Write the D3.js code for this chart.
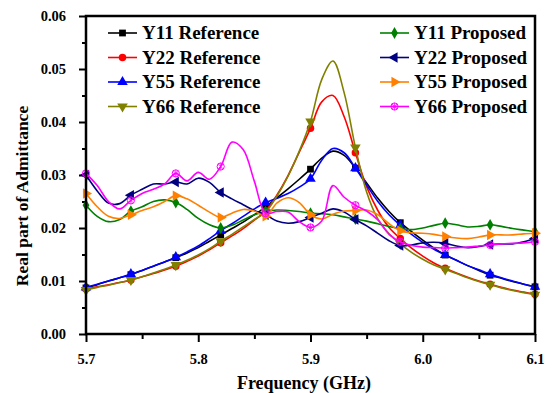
<!DOCTYPE html>
<html>
<head>
<meta charset="utf-8">
<script src="https://cdn.jsdelivr.net/npm/d3@7/dist/d3.min.js"></script>
<style>
  body { margin: 0; background: #fff; }
  text { font-family: "Liberation Serif", "Times New Roman", serif; font-weight: bold; fill: #000; }
</style>
</head>
<body>
<svg id="chart" width="554" height="393"></svg>
<script>
// frequency samples (GHz), markers sit on every 4th one
var freq = [5.70, 5.71, 5.72, 5.73, 5.74, 5.75, 5.76, 5.77, 5.78, 5.79,
            5.80, 5.81, 5.82, 5.83, 5.84, 5.85, 5.86, 5.87, 5.88, 5.89,
            5.90, 5.91, 5.92, 5.93, 5.94, 5.95, 5.96, 5.97, 5.98, 5.99,
            6.00, 6.01, 6.02, 6.03, 6.04, 6.05, 6.06, 6.07, 6.08, 6.09, 6.10];

var y11Ref = [0.0087, 0.0093, 0.0100, 0.0106, 0.0112, 0.0120, 0.0128, 0.0136, 0.0144, 0.0153,
              0.0163, 0.0175, 0.0187, 0.0199, 0.0211, 0.0225, 0.0240, 0.0257, 0.0274, 0.0292,
              0.0311, 0.0332, 0.0345, 0.0337, 0.0313, 0.0285, 0.0256, 0.0231, 0.0210, 0.0193,
              0.0177, 0.0162, 0.0149, 0.0139, 0.0129, 0.0120, 0.0111, 0.0105, 0.0099, 0.0094, 0.0089];
var y22Ref = [0.0085, 0.0089, 0.0093, 0.0097, 0.0102, 0.0108, 0.0114, 0.0121, 0.0128, 0.0137,
              0.0147, 0.0159, 0.0172, 0.0185, 0.0199, 0.0215, 0.0232, 0.0262, 0.0299, 0.0343,
              0.0388, 0.0438, 0.0450, 0.0410, 0.0342, 0.0278, 0.0233, 0.0201, 0.0180, 0.0162,
              0.0147, 0.0134, 0.0124, 0.0115, 0.0107, 0.0100, 0.0094, 0.0088, 0.0083, 0.0079, 0.0075];
var y55Ref = [0.0088, 0.0094, 0.0100, 0.0106, 0.0113, 0.0120, 0.0128, 0.0136, 0.0145, 0.0155,
              0.0166, 0.0180, 0.0195, 0.0208, 0.0222, 0.0236, 0.0248, 0.0256, 0.0265, 0.0277,
              0.0293, 0.0328, 0.0350, 0.0342, 0.0313, 0.0281, 0.0250, 0.0225, 0.0205, 0.0188,
              0.0173, 0.0160, 0.0149, 0.0139, 0.0129, 0.0121, 0.0113, 0.0106, 0.0100, 0.0094, 0.0089];
var y66Ref = [0.0083, 0.0088, 0.0092, 0.0097, 0.0102, 0.0108, 0.0115, 0.0122, 0.0130, 0.0139,
              0.0149, 0.0161, 0.0175, 0.0188, 0.0202, 0.0216, 0.0230, 0.0260, 0.0298, 0.0345,
              0.0401, 0.0480, 0.0515, 0.0455, 0.0352, 0.0268, 0.0217, 0.0189, 0.0170, 0.0154,
              0.0141, 0.0130, 0.0122, 0.0114, 0.0106, 0.0099, 0.0093, 0.0087, 0.0082, 0.0078, 0.0074];
var y11Prop = [0.0243, 0.0222, 0.0212, 0.0216, 0.0232, 0.0240, 0.0250, 0.0253, 0.0248, 0.0235,
               0.0218, 0.0206, 0.0200, 0.0205, 0.0215, 0.0225, 0.0231, 0.0234, 0.0233, 0.0231,
               0.0228, 0.0227, 0.0225, 0.0221, 0.0217, 0.0213, 0.0208, 0.0203, 0.0199, 0.0197,
               0.0200, 0.0205, 0.0209, 0.0206, 0.0202, 0.0203, 0.0206, 0.0203, 0.0199, 0.0196, 0.0193];
var y22Prop = [0.0300, 0.0270, 0.0247, 0.0246, 0.0262, 0.0273, 0.0283, 0.0283, 0.0287, 0.0283,
               0.0294, 0.0286, 0.0267, 0.0255, 0.0244, 0.0233, 0.0225, 0.0213, 0.0209, 0.0212,
               0.0220, 0.0228, 0.0236, 0.0230, 0.0216, 0.0204, 0.0190, 0.0176, 0.0167, 0.0168,
               0.0172, 0.0173, 0.0171, 0.0166, 0.0163, 0.0165, 0.0169, 0.0170, 0.0170, 0.0174, 0.0180];
var y55Prop = [0.0265, 0.0240, 0.0222, 0.0218, 0.0225, 0.0233, 0.0240, 0.0250, 0.0261, 0.0255,
               0.0243, 0.0230, 0.0220, 0.0228, 0.0235, 0.0232, 0.0222, 0.0247, 0.0257, 0.0248,
               0.0225, 0.0217, 0.0226, 0.0232, 0.0233, 0.0234, 0.0225, 0.0208, 0.0195, 0.0191,
               0.0190, 0.0188, 0.0184, 0.0181, 0.0180, 0.0183, 0.0187, 0.0187, 0.0187, 0.0189, 0.0190];
var y66Prop = [0.0303, 0.0280, 0.0250, 0.0236, 0.0252, 0.0265, 0.0273, 0.0283, 0.0303, 0.0289,
               0.0305, 0.0292, 0.0316, 0.0362, 0.0348, 0.0288, 0.0228, 0.0231, 0.0230, 0.0212,
               0.0201, 0.0213, 0.0280, 0.0258, 0.0243, 0.0232, 0.0215, 0.0188, 0.0174, 0.0167,
               0.0164, 0.0163, 0.0162, 0.0163, 0.0164, 0.0166, 0.0168, 0.0170, 0.0171, 0.0172, 0.0174];

var seriesNames = ["Y11 Reference", "Y22 Reference", "Y55 Reference", "Y66 Reference",
                   "Y11 Proposed", "Y22 Proposed", "Y55 Proposed", "Y66 Proposed"];
var xTicks = [5.7, 5.8, 5.9, 6.0, 6.1];
var xMinor = [5.75, 5.85, 5.95, 6.05];
var yTicks = [0.00, 0.01, 0.02, 0.03, 0.04, 0.05, 0.06];
var yMinor = [0.005, 0.015, 0.025, 0.035, 0.045, 0.055];

(function () {
  var svg = d3.select("#chart");
  var pLeft = 86, pRight = 535, pTop = 16, pBottom = 334;

  var x = d3.scaleLinear().domain([5.7, 6.1]).range([pLeft, pRight]);
  var y = d3.scaleLinear().domain([0, 0.06]).range([pBottom, pTop]);

  // marker shapes
  var tri = d3.symbol().type(d3.symbolTriangle).size(48)();
  function markerPath(kind) {
    if (kind == "square") return d3.symbol().type(d3.symbolSquare).size(46)();
    if (kind == "circle") return d3.symbol().type(d3.symbolCircle).size(44)();
    if (kind == "diamond") return d3.symbol().type(d3.symbolDiamond).size(40)();
    return tri;
  }
  var series = [
    {values: y11Ref, color: "#000000", kind: "square", rot: 0},
    {values: y22Ref, color: "#ff0000", kind: "circle", rot: 0},
    {values: y55Ref, color: "#0000ff", kind: "tri", rot: 0},
    {values: y66Ref, color: "#808000", kind: "tri", rot: 180},
    {values: y11Prop, color: "#008000", kind: "diamond", rot: 0},
    {values: y22Prop, color: "#000080", kind: "tri", rot: -90},
    {values: y55Prop, color: "#ff8000", kind: "tri", rot: 90},
    {values: y66Prop, color: "#ff00ff", kind: "cross", rot: 0}
  ];

  function drawMarker(g, s) {
    if (s.kind == "cross") {
      g.append("circle").attr("r", 3.6).attr("fill", "none")
        .attr("stroke", s.color).attr("stroke-width", 1);
      g.append("path").attr("d", "M-2.6,-2.6L2.6,2.6M-2.6,2.6L2.6,-2.6M0,-3.6V3.6")
        .attr("stroke", s.color).attr("stroke-width", 0.8);
      return;
    }
    g.append("path").attr("d", markerPath(s.kind))
      .attr("transform", "rotate(" + s.rot + ")")
      .attr("fill", s.color);
  }

  // axes
  var axisG = svg.append("g");
  axisG.append("g").attr("transform", "translate(0," + pBottom + ")")
    .call(d3.axisBottom(x).tickValues(xTicks).tickSize(8).tickPadding(12).tickFormat(d3.format(".1f")));
  axisG.append("g").attr("transform", "translate(0," + pBottom + ")")
    .call(d3.axisBottom(x).tickValues(xMinor).tickSize(5).tickFormat(""));
  axisG.append("g").attr("transform", "translate(" + pLeft + ",0)")
    .call(d3.axisLeft(y).tickValues(yTicks).tickSize(7).tickPadding(13).tickFormat(d3.format(".2f")));
  axisG.append("g").attr("transform", "translate(" + pLeft + ",0)")
    .call(d3.axisLeft(y).tickValues(yMinor).tickSize(4).tickFormat(""));
  axisG.selectAll(".domain").remove();
  axisG.selectAll(".tick line").attr("stroke", "#000").attr("stroke-width", 2);
  axisG.selectAll(".tick text").style("font-size", "14.5px").attr("fill", "#000");

  // curves
  var line = d3.line()
    .x(function(d, i) { return x(freq[i]); })
    .y(function(d) { return y(d); })
    .curve(d3.curveCatmullRom.alpha(0.5));

  var plot = svg.append("g");
  series.forEach(function(s) {
    plot.append("path").datum(s.values)
      .attr("d", line)
      .attr("fill", "none")
      .attr("stroke", s.color)
      .attr("stroke-width", 1.6);
    s.values.forEach(function(v, i) {
      if (i % 4 != 0) return;
      var m = plot.append("g").attr("transform", "translate(" + x(freq[i]) + "," + y(v) + ")");
      drawMarker(m, s);
    });
  });

  // frame
  svg.append("rect").attr("x", pLeft).attr("y", pTop)
    .attr("width", pRight - pLeft).attr("height", pBottom - pTop)
    .attr("fill", "none").attr("stroke", "#000").attr("stroke-width", 2.5);

  // legend
  var legend = svg.append("g");
  series.forEach(function(s, i) {
    var col = i < 4 ? 0 : 1;
    var row = i % 4;
    var lx = col == 0 ? 108 : 380;
    var ly = 33 + row * 24.5;
    var g = legend.append("g").attr("transform", "translate(" + lx + "," + ly + ")");
    g.append("line").attr("x1", 0).attr("x2", 29).attr("y1", 0).attr("y2", 0)
      .attr("stroke", s.color).attr("stroke-width", 1.6);
    drawMarker(g.append("g").attr("transform", "translate(14.5,0)"), s);
    g.append("text").attr("x", 34).attr("y", 6).style("font-size", "19px")
      .text(seriesNames[i]);
  });

  // axis titles
  svg.append("text").attr("x", 304).attr("y", 389)
    .attr("text-anchor", "middle").style("font-size", "18px")
    .text("Frequency (GHz)");
  svg.append("text")
    .attr("transform", "translate(28,196) rotate(-90)")
    .attr("text-anchor", "middle").style("font-size", "17.5px")
    .text("Real part of Admittance");
})();
</script>
</body>
</html>
